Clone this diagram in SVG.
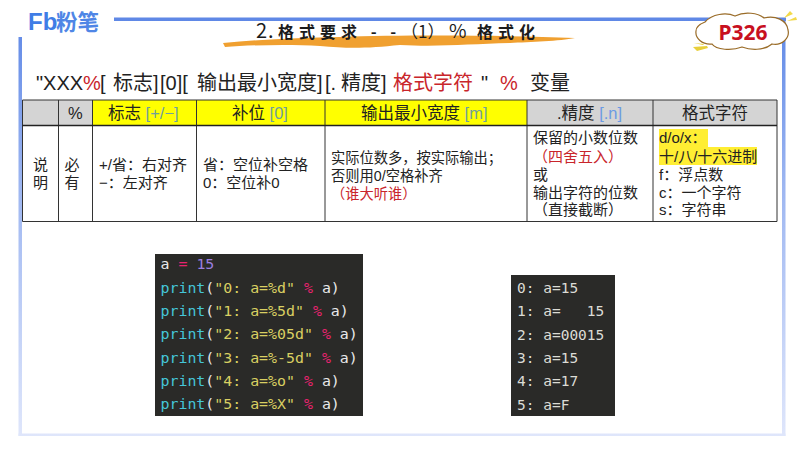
<svg xmlns="http://www.w3.org/2000/svg" width="800" height="450" viewBox="0 0 800 450">
<defs>
<linearGradient id="fr" gradientUnits="userSpaceOnUse" x1="0" y1="19" x2="0" y2="436">
<stop offset="0" stop-color="#5f88e6"/><stop offset="0.4" stop-color="#9db6f1"/><stop offset="1" stop-color="#dfe6fb"/>
</linearGradient>
</defs>
<style>
text{font-family:"Liberation Sans","Noto Sans CJK SC",sans-serif;fill:#222}
.h{font-size:20px}.th{font-size:16.5px}.td{font-size:15px}.tm{font-size:14.25px}
.r{fill:#c9252b}.ac{fill:#6f9f9f}.bl{fill:#6b9be3}
.ti{font-family:"Noto Sans CJK SC","Liberation Sans",sans-serif;font-size:16px;font-weight:700;fill:#1b1b1b;letter-spacing:5px}
.gl{stroke:#333;stroke-width:1;fill:none}
.code{font-family:"DejaVu Sans Mono","Liberation Mono",monospace;font-size:14.9px;fill:#e8e8e8;white-space:pre}
.out{font-family:"DejaVu Sans Mono","Liberation Mono",monospace;font-size:14.5px;fill:#dcdcd6;white-space:pre}
.f{fill:#45c6d8}.s{fill:#d9cf62}.o{fill:#e8236f}.n{fill:#9c7fe0}
</style>
<rect width="800" height="450" fill="#fff"/>
<g id="frame" fill="url(#fr)">
<rect x="18.500" y="37" width="3.500" height="399"/>
<rect x="114" y="17.500" width="672" height="3.500"/>
<rect x="782" y="19" width="3.500" height="417"/>
<rect x="18.500" y="433.500" width="767" height="2.500"/>
</g>
<g id="logo">
<text x="28" y="30" font-size="24" font-weight="700" style="fill:#3f7de6;font-family:'Liberation Sans',sans-serif">Fb</text>
<text x="56" y="29.500" font-size="21.500" font-weight="700" style="fill:#4f86e6;font-family:'Noto Sans CJK SC',sans-serif">粉笔</text>
</g>
<g id="title">
<path d="M223 43C262 39 300 38 340 37C400 35 500 35 575 38C560 41 530 42 510 43C470 44 440 47 400 45C370 48 350 49 320 46C290 44 250 45 225 47Z" fill="#f0a030"/>
<text class="ti" x="256" y="38" style="font-weight:400;font-size:20px;letter-spacing:1px">2.</text>
<text class="ti" x="278" y="38">格式要求 - -</text>
<text class="ti" x="401" y="38" style="font-weight:400;font-size:17px;letter-spacing:0">（1）</text>
<text class="ti" x="449" y="38" style="font-weight:400;font-size:19px;letter-spacing:0">%</text>
<text class="ti" x="477" y="38">格式化</text>
</g>
<g id="cloud">
<path d="M705 22C712 14 726 12 735 16C745 11 758 13 764 18C775 15 787 20 788 30C790 38 782 46 772 44C764 51 750 50 742 47C732 51 716 50 712 44C702 45 695 38 696 31C696 27 700 24 705 22Z" fill="#fff" stroke="#9a6c28" stroke-width="1.200"/>
<path d="M784 18L790 11L793 14ZM787 21L796 17L797 20Z" fill="#f2d94a"/>
<path d="M693 47L707 46L708 48L697 51ZM694 43L704 44L703 45Z" fill="#e8cf3a"/>
<text x="743" y="40" text-anchor="middle" font-size="21" font-weight="700" style="fill:#c8101f;font-family:'Noto Sans','Liberation Sans',sans-serif">P326</text>
</g>
<g id="heading" class="h">
<text class="h" x="36" y="90">"XXX</text><text class="h r" x="83" y="90">%</text>
<text class="h" x="100" y="90">[</text><text class="h" x="113" y="90">标志]</text>
<text class="h" x="160" y="90">[0][</text><text class="h" x="197" y="90">输出最小宽度]</text>
<text class="h" x="325" y="90">[.</text><text class="h" x="341" y="90">精度]</text>
<text class="h r" x="393" y="90">格式字符</text><text class="h" x="481" y="90">"</text>
<text class="h r" x="500" y="90">%</text><text class="h" x="530" y="90">变量</text>
</g>
<g id="table">
<rect x="22.500" y="100" width="70" height="25.500" fill="#d4d4d4"/>
<rect x="92.500" y="100" width="434.500" height="25.500" fill="#ffff00"/>
<rect x="527" y="100" width="250" height="25.500" fill="#d4d4d4"/>
<rect x="659" y="129" width="49" height="18" fill="#ffee33"/>
<rect x="659" y="147" width="98" height="18" fill="#ffee33"/>
<path class="gl" d="M22.500 100H777V221.500H22.500ZM58.500 100V221.500M92.500 100V221.500M196.500 100V221.500M325 100V221.500M527 100V221.500M653 100V221.500"/>
<path d="M22.500 125.500H777" stroke="#222" stroke-width="1.500"/>
<text class="th" x="68" y="119">%</text>
<text class="th" x="108" y="119">标志 <tspan class="ac">[+/−]</tspan></text>
<text class="th" x="232" y="119">补位 <tspan class="ac">[0]</tspan></text>
<text class="th" x="361" y="119">输出最小宽度 <tspan class="ac">[m]</tspan></text>
<text class="th" x="557" y="119">.精度 <tspan class="bl">[.n]</tspan></text>
<text class="th" x="682" y="119">格式字符</text>
<text class="td" x="33" y="170">说</text><text class="td" x="33" y="188">明</text>
<text class="td" x="64.500" y="170">必</text><text class="td" x="64.500" y="188">有</text>
<text class="td" x="99" y="170">+/省：右对齐</text><text class="td" x="99" y="188">−：左对齐</text>
<text class="td" x="203" y="170">省：空位补空格</text><text class="td" x="203" y="188">0：空位补0</text>
<text class="tm" x="331" y="163">实际位数多，按实际输出；</text>
<text class="tm" x="331" y="181">否则用0/空格补齐</text>
<text class="tm r" x="331" y="199">（谁大听谁）</text>
<text class="td" x="533" y="143">保留的小数位数</text>
<text class="td r" x="533" y="162">（四舍五入）</text>
<text class="td" x="533" y="180">或</text>
<text class="td" x="533" y="197.500">输出字符的位数</text>
<text class="td" x="533" y="215">（直接截断）</text>
<text class="td" x="659" y="143">d/o/x：</text>
<text class="td" x="659" y="162">十/八/十六进制</text>
<text class="td" x="659" y="180">f：浮点数</text>
<text class="td" x="659" y="197.500">c：一个字符</text>
<text class="td" x="659" y="215">s：字符串</text>
</g>
<g id="code">
<rect x="155" y="254" width="208" height="162" fill="#2a2a28"/>
<text class="code" x="160.500" y="269">a <tspan class="o">=</tspan> <tspan class="n">15</tspan></text>
<text class="code" x="160.500" y="292.500"><tspan class="f">print</tspan>(<tspan class="s">"0: a=%d"</tspan> <tspan class="o">%</tspan> a)</text>
<text class="code" x="160.500" y="316"><tspan class="f">print</tspan>(<tspan class="s">"1: a=%5d"</tspan> <tspan class="o">%</tspan> a)</text>
<text class="code" x="160.500" y="339"><tspan class="f">print</tspan>(<tspan class="s">"2: a=%05d"</tspan> <tspan class="o">%</tspan> a)</text>
<text class="code" x="160.500" y="362.500"><tspan class="f">print</tspan>(<tspan class="s">"3: a=%-5d"</tspan> <tspan class="o">%</tspan> a)</text>
<text class="code" x="160.500" y="386"><tspan class="f">print</tspan>(<tspan class="s">"4: a=%o"</tspan> <tspan class="o">%</tspan> a)</text>
<text class="code" x="160.500" y="409"><tspan class="f">print</tspan>(<tspan class="s">"5: a=%X"</tspan> <tspan class="o">%</tspan> a)</text>
</g>
<g id="output">
<rect x="511" y="275" width="104" height="141" fill="#2a2a28"/>
<text class="out" x="517" y="293">0: a=15</text>
<text class="out" x="517" y="316">1: a=   15</text>
<text class="out" x="517" y="339.500">2: a=00015</text>
<text class="out" x="517" y="363">3: a=15</text>
<text class="out" x="517" y="386">4: a=17</text>
<text class="out" x="517" y="409.500">5: a=F</text>
</g>
</svg>
